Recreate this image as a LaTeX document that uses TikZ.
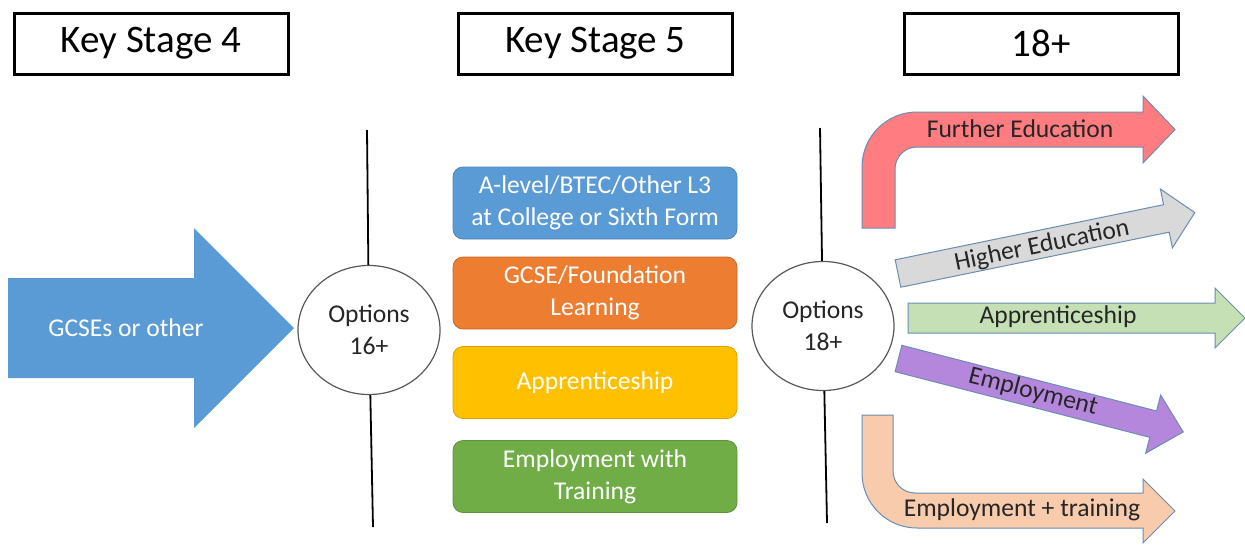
\documentclass[tikz,border=0pt]{standalone}
\usepackage{fontspec}
\setmainfont{Carlito}
\usetikzlibrary{shapes.geometric}
\definecolor{cblue}{HTML}{5B9BD5}
\definecolor{corange}{HTML}{ED7D31}
\definecolor{cyellow}{HTML}{FFC000}
\definecolor{cgreen}{HTML}{70AD47}
\definecolor{cred}{HTML}{FF7C80}
\definecolor{cgray}{HTML}{D9D9D9}
\definecolor{clgreen}{HTML}{C5E0B4}
\definecolor{cpurple}{HTML}{B587DC}
\definecolor{cpeach}{HTML}{F8CBAD}
\definecolor{cline}{HTML}{6A8DB3}
\definecolor{ctext}{HTML}{262626}
\tikzset{
  hdr/.style={draw=black, line width=1.5pt, minimum width=137pt, minimum height=30.5pt, inner sep=0pt, font=\fontsize{19.5}{23}\selectfont},
  opt/.style={ellipse, draw=black!65, line width=0.6pt, fill=white, minimum width=71pt, minimum height=64.5pt, inner sep=0pt, align=center, text=ctext, font=\fontsize{12.8}{16}\selectfont},
  stagebox/.style={rounded corners=5pt, minimum width=142pt, minimum height=36pt, inner sep=0pt, align=center, text=white, font=\fontsize{12.8}{16}\selectfont},
  arrowshape/.style={draw=cline, line width=0.5pt},
  arrowtext/.style={text=ctext, inner sep=0pt, font=\fontsize{12.8}{16}\selectfont},
  divider/.style={draw=black, line width=0.9pt}
}
\begin{document}
\begin{tikzpicture}[x=0.5pt, y=-0.5pt]
\useasboundingbox (0,0) rectangle (1245,546);
\fill[white] (0,0) rectangle (1245,546);

% headers
\node[hdr] (ks4) at (151,43.5) {Key Stage 4};
\node[hdr] (ks5) at (595.5,43.5) {Key Stage 5};
\node[hdr] (h18) at (1041,43.5) {18+};

% big blue arrow
\fill[cblue] (8,278) -- (194,278) -- (194,228) -- (294,328) -- (194,428) -- (194,378) -- (8,378) -- cycle;
\node[text=white, inner sep=0pt, font=\fontsize{12.8}{16}\selectfont] (gcse) at (126,328) {GCSEs or other};

% option circles and dividers
\node[opt] (c1) at (369,330) {Options\\16+};
\node[opt] (c2) at (823,326) {Options\\18+};
\coordinate (t1) at (367,130);
\coordinate (b1) at (373,527);
\coordinate (t2) at (820,128);
\coordinate (b2) at (827,523);
\draw[divider] (t1) -- (c1);
\draw[divider] (c1) -- (b1);
\draw[divider] (t2) -- (c2);
\draw[divider] (c2) -- (b2);

% stage 5 boxes
\node[stagebox, fill=cblue, draw=cblue!85!black, line width=0.4pt] (s1) at (595,203) {A-level/BTEC/Other L3\\at College or Sixth Form};
\node[stagebox, fill=corange, draw=corange!85!black, line width=0.4pt] (s2) at (595,293) {GCSE/Foundation\\Learning};
\node[stagebox, fill=cyellow, draw=cyellow!85!black, line width=0.4pt] (s3) at (595,382.5) {Apprenticeship};
\node[stagebox, fill=cgreen, draw=cgreen!85!black, line width=0.4pt] (s4) at (595,476.5) {Employment with\\Training};

% Further Education (bent arrow up)
\filldraw[arrowshape, fill=cred] (862,228) -- (862,167) .. controls (862,136.6) and (886.6,112) .. (917,112)
  -- (1143,112) -- (1143,96) -- (1175,129.5) -- (1143,163) -- (1143,147) -- (917,147)
  .. controls (904.9,147) and (895,156.9) .. (895,169) -- (895,228) -- cycle;
\node[arrowtext] (fe) at (1020,129) {Further Education};

% Higher Education (rotated up)
\begin{scope}[shift={(898,273.5)}, rotate=11.6]
\filldraw[arrowshape, fill=cgray] (0,-14) -- (274,-14) -- (274,-30) -- (303,0) -- (274,30) -- (274,14) -- (0,14) -- cycle;
\end{scope}
\node[arrowtext, rotate=11.6] (he) at (1042,246) {Higher Education};

% Apprenticeship (straight)
\filldraw[arrowshape, fill=clgreen] (908,303) -- (1215,303) -- (1215,288) -- (1245,318) -- (1215,348) -- (1215,333) -- (908,333) -- cycle;
\node[arrowtext] (ap) at (1058,317) {Apprenticeship};

% Employment (rotated down)
\begin{scope}[shift={(898.5,358.5)}, rotate=-14.46]
\filldraw[arrowshape, fill=cpurple] (0,-13.6) -- (263,-13.6) -- (263,-30) -- (294,0) -- (263,30) -- (263,13.6) -- (0,13.6) -- cycle;
\end{scope}
\node[arrowtext, rotate=-14.46] (em) at (1033,392) {Employment};

% Employment + training (bent arrow down)
\filldraw[arrowshape, fill=cpeach] (862,415) -- (862,473) .. controls (862,503.4) and (886.6,528) .. (917,528)
  -- (1143,528) -- (1143,543) -- (1175,511) -- (1143,479) -- (1143,493) -- (915,493)
  .. controls (902.9,493) and (893,483.1) .. (893,471) -- (893,415) -- cycle;
\node[arrowtext] (et) at (1022,510) {Employment + training};
\end{tikzpicture}
\end{document}
